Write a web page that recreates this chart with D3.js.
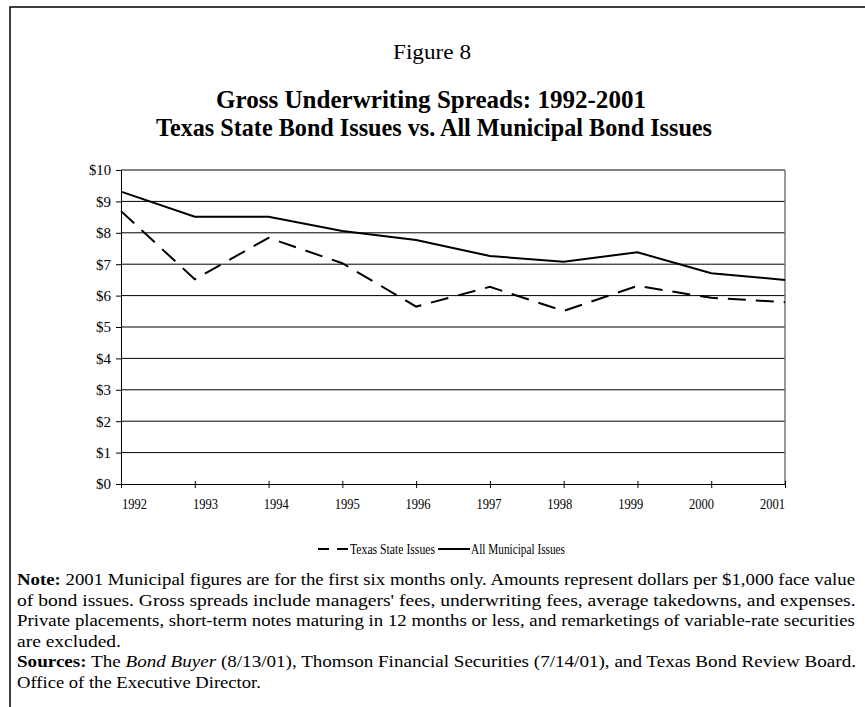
<!DOCTYPE html>
<html>
<head>
<meta charset="utf-8">
<script src="https://cdn.jsdelivr.net/npm/d3@7"></script>
<style>
  body { margin: 0; background: #fff; }
  svg { display: block; font-family: "Liberation Serif", "Times New Roman", serif; }
  .axis path, .axis line { stroke: #000; }
  .axis text { font-family: "Liberation Serif", serif; font-size: 15px; fill: #000; }
</style>
</head>
<body>
<svg id="chart" width="865" height="707"></svg>
<script>
// data
var years = [1992, 1993, 1994, 1995, 1996, 1997, 1998, 1999, 2000, 2001];
var texasState = [8.69, 6.52, 7.84, 7.03, 5.65, 6.28, 5.51, 6.31, 5.93, 5.79];
var allMunicipal = [9.31, 8.51, 8.51, 8.06, 7.77, 7.26, 7.08, 7.38, 6.71, 6.50];
var yTicks = [0, 1, 2, 3, 4, 5, 6, 7, 8, 9, 10];
var seriesNames = ["Texas State Issues", "All Municipal Issues"];

var noteLines = [
  [{b: "Note:"}, {t: " 2001 Municipal figures are for the first six months only. Amounts represent dollars per $1,000 face value"}],
  [{t: "of bond issues. Gross spreads include managers' fees, underwriting fees, average takedowns, and expenses."}],
  [{t: "Private placements, short-term notes maturing in 12 months or less, and remarketings of variable-rate securities"}],
  [{t: "are excluded."}],
  [{b: "Sources:"}, {t: " The "}, {i: "Bond Buyer"}, {t: " (8/13/01), Thomson Financial Securities (7/14/01), and Texas Bond Review Board."}],
  [{t: "Office of the Executive Director."}]
];
var noteWidths = [839, 839, 839, 104, 839, 244];

var svg = d3.select("#chart");

// frame
svg.append("path")
  .attr("d", "M10,707 V7 H865")
  .attr("fill", "none")
  .attr("stroke", "#000")
  .attr("stroke-width", 1.5);

// squeeze a text horizontally to a given width, left edge kept at x0
function fitWidth(sel, x0, yb, w) {
  var natural = sel.node().getComputedTextLength();
  sel.attr("transform", "translate(" + x0 + "," + yb + ") scale(" + (w / natural) + ",1)");
}

// headings
svg.append("text")
  .attr("x", 432).attr("y", 59)
  .attr("text-anchor", "middle")
  .style("font-size", "22px")
  .attr("textLength", 78).attr("lengthAdjust", "spacingAndGlyphs")
  .text("Figure 8");

svg.append("text")
  .attr("x", 431).attr("y", 108)
  .attr("text-anchor", "middle")
  .style("font-size", "25px").style("font-weight", "bold")
  .attr("textLength", 430).attr("lengthAdjust", "spacingAndGlyphs")
  .text("Gross Underwriting Spreads: 1992-2001");

svg.append("text")
  .attr("x", 434).attr("y", 136)
  .attr("text-anchor", "middle")
  .style("font-size", "25px").style("font-weight", "bold")
  .attr("textLength", 556).attr("lengthAdjust", "spacingAndGlyphs")
  .text("Texas State Bond Issues vs. All Municipal Bond Issues");

// scales
var x = d3.scalePoint().domain(years).range([121, 785]);
var xLabel = d3.scalePoint().domain(years).range([134, 772]);
var y = d3.scaleLinear().domain([0, 10]).range([484, 170]);

// grid
svg.append("g")
  .selectAll("line")
  .data(yTicks.filter(function(d) { return d > 0; }))
  .enter().append("line")
  .attr("x1", 121).attr("x2", 785)
  .attr("y1", function(d) { return y(d); })
  .attr("y2", function(d) { return y(d); })
  .attr("stroke", "#000")
  .attr("stroke-width", 1);

svg.append("line")
  .attr("x1", 785).attr("x2", 785)
  .attr("y1", y(10)).attr("y2", y(0))
  .attr("stroke", "#777").attr("stroke-width", 1.5);

// axes
svg.append("g")
  .attr("class", "axis")
  .attr("transform", "translate(121,0)")
  .call(d3.axisLeft(y).tickValues(yTicks).tickSize(5).tickPadding(5)
    .tickFormat(function(d) { return "$" + d; }))
  .call(function(g) {
    g.selectAll(".tick text")
      .attr("textLength", function(d) { return d >= 10 ? 22 : 15; })
      .attr("lengthAdjust", "spacingAndGlyphs");
  });

svg.append("g")
  .attr("class", "axis")
  .attr("transform", "translate(0,484)")
  .call(d3.axisBottom(x).tickSize(4).tickSizeOuter(0).tickFormat(""))
  .call(function(g) { g.selectAll(".tick line").attr("y1", -3); });

svg.append("g")
  .attr("class", "axis")
  .attr("transform", "translate(0,484)")
  .call(d3.axisBottom(xLabel).tickSize(0).tickPadding(14))
  .call(function(g) {
    g.select(".domain").remove();
    g.selectAll(".tick text").attr("textLength", 25).attr("lengthAdjust", "spacingAndGlyphs");
  });

// lines
var line = d3.line()
  .x(function(d, i) { return x(years[i]); })
  .y(function(d) { return y(d); });

svg.append("path")
  .datum(allMunicipal)
  .attr("d", line)
  .attr("fill", "none")
  .attr("stroke", "#000")
  .attr("stroke-width", 2);

svg.append("path")
  .datum(texasState)
  .attr("d", line)
  .attr("fill", "none")
  .attr("stroke", "#000")
  .attr("stroke-width", 2)
  .attr("stroke-dasharray", "18,10");

// legend
var legend = svg.append("g").attr("transform", "translate(0,549)");
legend.append("line")
  .attr("x1", 318).attr("x2", 349).attr("y1", 0).attr("y2", 0)
  .attr("stroke", "#000").attr("stroke-width", 2)
  .attr("stroke-dasharray", "11,8");
legend.append("text")
  .attr("x", 350).attr("y", 5)
  .style("font-size", "14px")
  .attr("textLength", 85).attr("lengthAdjust", "spacingAndGlyphs")
  .text(seriesNames[0]);
legend.append("line")
  .attr("x1", 438).attr("x2", 470).attr("y1", 0).attr("y2", 0)
  .attr("stroke", "#000").attr("stroke-width", 2);
legend.append("text")
  .attr("x", 471).attr("y", 5)
  .style("font-size", "14px")
  .attr("textLength", 94).attr("lengthAdjust", "spacingAndGlyphs")
  .text(seriesNames[1]);

// notes
var notes = svg.append("g");
noteLines.forEach(function(parts, i) {
  var t = notes.append("text")
    .style("font-size", "16px");
  parts.forEach(function(p) {
    var s = t.append("tspan");
    if (p.b) s.style("font-weight", "bold").text(p.b);
    else if (p.i) s.style("font-style", "italic").text(p.i);
    else s.text(p.t);
  });
  fitWidth(t, 17, 585 + i * 20.5, noteWidths[i]);
});
</script>
</body>
</html>
